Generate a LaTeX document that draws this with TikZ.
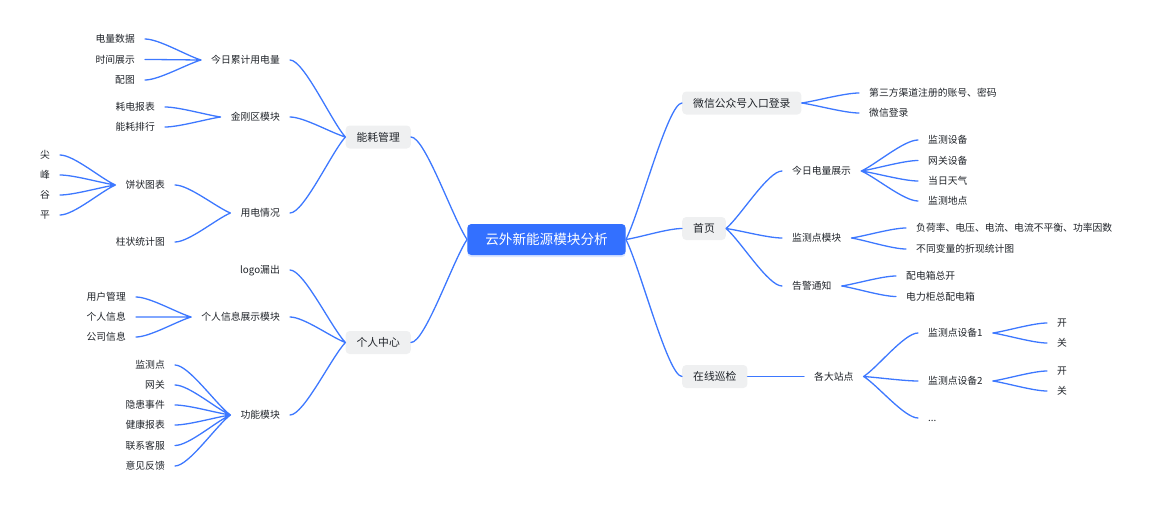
\documentclass[tikz,border=0pt]{standalone}
\usepackage{fontspec}
\setmainfont{Noto Sans CJK SC}
\usetikzlibrary{calc,shadows}
\definecolor{rootblue}{HTML}{3370FF}
\definecolor{lineblue}{HTML}{3D78FF}
\definecolor{topicgray}{HTML}{EFF0F1}
\definecolor{ink}{HTML}{1F2329}
\begin{document}
\begin{tikzpicture}[x=1pt,y=-1pt,
      font=\fontsize{9.8}{12}\selectfont,text=ink,
      root/.style={fill=rootblue,rounded corners=4pt,text=white,
                   font=\fontsize{13.6}{16}\selectfont,text height=12pt,text depth=1.6pt,
                   minimum height=31pt,inner xsep=18pt,
                   drop shadow={shadow xshift=0pt,shadow yshift=-2pt,fill=rootblue!70,opacity=0.25}},
      topic/.style={fill=topicgray,rounded corners=4pt,font=\fontsize{10.8}{13}\selectfont,
                    text height=9.5pt,text depth=1.3pt,minimum height=23pt,inner xsep=11pt},
      item/.style={inner xsep=10pt,inner ysep=2pt,text height=8.6pt,text depth=1.2pt},
      branch/.style={draw=lineblue,line width=1.3pt,line cap=round,
        to path={let \p1=(\tikztostart),\p2=(\tikztotarget) in
          .. controls ({\x1+0.25*(\x2-\x1)},{\y1+0.2*(\y2-\y1)})
          and ({\x1+0.75*(\x2-\x1)},\y2) .. (\tikztotarget)}}]
    \useasboundingbox (0,0) rectangle (1154,506);
    \node[root] (root) at (546.5,239.5) {云外新能源模块分析};
    \node[topic,anchor=east] (nh) at (411,137) {能耗管理};
    \node[topic,anchor=east] (grzx) at (411,342.5) {个人中心};
    \node[topic,anchor=west] (wx) at (682,103) {微信公众号入口登录};
    \node[topic,anchor=west] (sy) at (682,228.5) {首页};
    \node[topic,anchor=west] (xj) at (682,376.5) {在线巡检};
    \node[item,anchor=east] (jrlj) at (290,60) {今日累计用电量};
    \node[item,anchor=east] (jgq) at (290,117) {金刚区模块};
    \node[item,anchor=east] (ydqk) at (290,213) {用电情况};
    \node[item,anchor=east] (logo) at (290,270) {logo漏出};
    \node[item,anchor=east] (grxx) at (290,317) {个人信息展示模块};
    \node[item,anchor=east] (gnmk) at (290,415) {功能模块};
    \node[item,anchor=east] (dlsj) at (145,39) {电量数据};
    \node[item,anchor=east] (sjzs) at (145,59.5) {时间展示};
    \node[item,anchor=east] (pt) at (145,80) {配图};
    \node[item,anchor=east] (hdbb) at (165,107) {耗电报表};
    \node[item,anchor=east] (nhph) at (165,127) {能耗排行};
    \node[item,anchor=east] (bztb) at (175,185) {饼状图表};
    \node[item,anchor=east] (zztj) at (175,242) {柱状统计图};
    \node[item,anchor=east] (jian) at (60,155) {尖};
    \node[item,anchor=east] (feng) at (60,175) {峰};
    \node[item,anchor=east] (gu) at (60,195) {谷};
    \node[item,anchor=east] (ping) at (60,215) {平};
    \node[item,anchor=east] (yhgl) at (136,297) {用户管理};
    \node[item,anchor=east] (grxx1) at (136,317) {个人信息};
    \node[item,anchor=east] (gsxx) at (136,337) {公司信息};
    \node[item,anchor=east] (jcd) at (175,365) {监测点};
    \node[item,anchor=east] (wg) at (175,385) {网关};
    \node[item,anchor=east] (yhsj) at (175,405) {隐患事件};
    \node[item,anchor=east] (jkbb) at (175,425) {健康报表};
    \node[item,anchor=east] (lxkf) at (175,445.5) {联系客服};
    \node[item,anchor=east] (yjfk) at (175,466) {意见反馈};
    \node[item,anchor=west] (dsf) at (859,93) {第三方渠道注册的账号、密码};
    \node[item,anchor=west] (wxdl) at (859,113) {微信登录};
    \node[item,anchor=west] (jrdl) at (782,171) {今日电量展示};
    \node[item,anchor=west] (jcdmk) at (782,238) {监测点模块};
    \node[item,anchor=west] (gjtz) at (782,286) {告警通知};
    \node[item,anchor=west] (jcsb) at (918,140) {监测设备};
    \node[item,anchor=west] (wgsb) at (918,160.5) {网关设备};
    \node[item,anchor=west] (drtq) at (918,181) {当日天气};
    \node[item,anchor=west] (jcdd) at (918,201) {监测地点};
    \node[item,anchor=west] (fhl) at (906,228) {负荷率、电压、电流、电流不平衡、功率因数};
    \node[item,anchor=west] (btbl) at (906,249) {不同变量的折现统计图};
    \node[item,anchor=west] (pdx) at (896,276) {配电箱总开};
    \node[item,anchor=west] (dlg) at (896,296.5) {电力柜总配电箱};
    \node[item,anchor=west] (gdzd) at (804,376.5) {各大站点};
    \node[item,anchor=west] (sb1) at (918,333) {监测点设备1};
    \node[item,anchor=west] (sb2) at (918,381) {监测点设备2};
    \node[item,anchor=west] (more) at (918,418) {...};
    \node[item,anchor=west] (k1) at (1047,323) {开};
    \node[item,anchor=west] (g1) at (1047,343) {关};
    \node[item,anchor=west] (k2) at (1047,371) {开};
    \node[item,anchor=west] (g2) at (1047,391) {关};
    \draw[branch] (root.west) to (nh.east) (root.west) to (grzx.east);
    \draw[branch] (root.east) to (wx.west) (root.east) to (sy.west) (root.east) to (xj.west);
    \draw[branch] (nh.west) to (jrlj.east) (nh.west) to (jgq.east) (nh.west) to (ydqk.east);
    \draw[branch] (jrlj.west) to (dlsj.east) (jrlj.west) to (sjzs.east) (jrlj.west) to (pt.east);
    \draw[branch] (jgq.west) to (hdbb.east) (jgq.west) to (nhph.east);
    \draw[branch] (ydqk.west) to (bztb.east) (ydqk.west) to (zztj.east);
    \draw[branch] (bztb.west) to (jian.east) (bztb.west) to (feng.east)
                  (bztb.west) to (gu.east) (bztb.west) to (ping.east);
    \draw[branch] (grzx.west) to (logo.east) (grzx.west) to (grxx.east) (grzx.west) to (gnmk.east);
    \draw[branch] (grxx.west) to (yhgl.east) (grxx.west) to (grxx1.east) (grxx.west) to (gsxx.east);
    \draw[branch] (gnmk.west) to (jcd.east) (gnmk.west) to (wg.east) (gnmk.west) to (yhsj.east)
                  (gnmk.west) to (jkbb.east) (gnmk.west) to (lxkf.east) (gnmk.west) to (yjfk.east);
    \draw[branch] (wx.east) to (dsf.west) (wx.east) to (wxdl.west);
    \draw[branch] (sy.east) to (jrdl.west) (sy.east) to (jcdmk.west) (sy.east) to (gjtz.west);
    \draw[branch] (jrdl.east) to (jcsb.west) (jrdl.east) to (wgsb.west)
                  (jrdl.east) to (drtq.west) (jrdl.east) to (jcdd.west);
    \draw[branch] (jcdmk.east) to (fhl.west) (jcdmk.east) to (btbl.west);
    \draw[branch] (gjtz.east) to (pdx.west) (gjtz.east) to (dlg.west);
    \draw[branch] (xj.east) to (gdzd.west);
    \draw[branch] (gdzd.east) to (sb1.west) (gdzd.east) to (sb2.west) (gdzd.east) to (more.west);
    \draw[branch] (sb1.east) to (k1.west) (sb1.east) to (g1.west);
    \draw[branch] (sb2.east) to (k2.west) (sb2.east) to (g2.west);
\end{tikzpicture}
\end{document}
